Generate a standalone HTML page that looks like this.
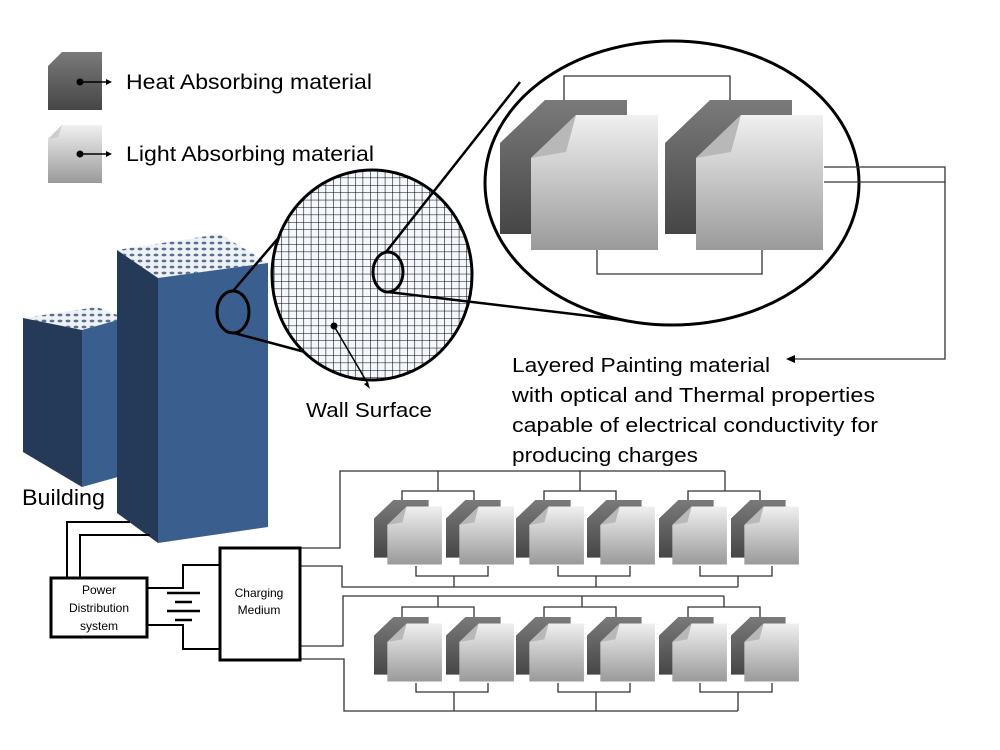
<!DOCTYPE html>
<html><head><meta charset="utf-8"><style>
html,body{margin:0;padding:0;background:#fff;}
svg{display:block;font-family:"Liberation Sans",sans-serif;}
</style></head><body>
<svg width="1000" height="750" viewBox="0 0 1000 750" xmlns="http://www.w3.org/2000/svg">
<defs>
<linearGradient id="gd" x1="0" y1="0" x2="0" y2="1"><stop offset="0" stop-color="#7a7a7a"/><stop offset="1" stop-color="#464646"/></linearGradient>
<linearGradient id="gl" x1="0" y1="0" x2="0" y2="1"><stop offset="0" stop-color="#f0f0f0"/><stop offset="1" stop-color="#9a9a9a"/></linearGradient>
<pattern id="grid" width="7.4" height="7.4" patternUnits="userSpaceOnUse"><rect width="7.4" height="7.4" fill="#f4f8fc"/><path d="M0 0H7.4M0 0V7.4" stroke="#000" stroke-width="1.1" fill="none"/></pattern>
<pattern id="roof" width="8" height="6" patternUnits="userSpaceOnUse"><rect width="8" height="6" fill="#eef1f6"/><ellipse cx="4" cy="3" rx="2.4" ry="1.4" fill="#5a6f90"/></pattern>
<g id="panel">
<path d="M45 0H127V134H0V43Z" fill="url(#gd)"/>
<path d="M76 15H158V150H31V58Z" fill="url(#gl)"/>
<path d="M31 58L76 15L66 52Z" fill="#b8b8b8"/>
</g>
</defs>

<path d="M62 52H102V110H48V66Z" fill="url(#gd)"/>
<path d="M62 125H102V183H48V139Z" fill="url(#gl)"/>
<path d="M48 139L62 125L58 137Z" fill="#ccc"/>
<circle cx="80" cy="82" r="3.5" fill="#000"/><line x1="80" y1="82" x2="110" y2="82" stroke="#000" stroke-width="1.5"/><path d="M112 82l-6-3v6z" fill="#000"/>
<circle cx="80" cy="154" r="3.5" fill="#000"/><line x1="80" y1="154" x2="110" y2="154" stroke="#000" stroke-width="1.5"/><path d="M112 154l-6-3v6z" fill="#000"/>
<text x="126" y="89" font-size="21" textLength="246" lengthAdjust="spacingAndGlyphs">Heat Absorbing material</text>
<text x="126" y="161" font-size="21" textLength="248" lengthAdjust="spacingAndGlyphs">Light Absorbing material</text>

<polygon points="23,318 97,307 125,318 82,330" fill="url(#roof)"/>
<polygon points="23,318 82,330 82,487 23,452" fill="#243a58"/>
<polygon points="82,330 125,318 125,475 82,487" fill="#3a5f8e"/>
<polygon points="117,250 220,234 268,263 158,278" fill="url(#roof)"/>
<polygon points="117,250 158,278 158,543 117,513" fill="#243a58"/>
<polygon points="158,278 268,263 268,527 158,543" fill="#3a5f8e"/>
<text x="22" y="505" font-size="22" textLength="83" lengthAdjust="spacingAndGlyphs">Building</text>

<ellipse cx="233" cy="312" rx="16" ry="21" fill="none" stroke="#000" stroke-width="3"/>
<line x1="233" y1="291" x2="292" y2="222" stroke="#000" stroke-width="2.5"/>
<line x1="234" y1="333" x2="305" y2="352" stroke="#000" stroke-width="2.5"/>

<ellipse cx="372" cy="275" rx="100" ry="105" fill="url(#grid)" stroke="#000" stroke-width="3"/>
<ellipse cx="388" cy="272" rx="15" ry="20" fill="none" stroke="#000" stroke-width="3"/>
<line x1="386" y1="252" x2="520" y2="82" stroke="#000" stroke-width="2.5"/>
<line x1="388" y1="292" x2="665" y2="325" stroke="#000" stroke-width="2.5"/>
<circle cx="334" cy="326" r="3.5" fill="#000"/>
<line x1="334" y1="326" x2="368" y2="384" stroke="#000" stroke-width="1.5"/>
<path d="M370 389l-6-5 4-2z" fill="#000"/>
<text x="306" y="417" font-size="20" textLength="126" lengthAdjust="spacingAndGlyphs">Wall Surface</text>

<ellipse cx="672" cy="183" rx="187" ry="142" fill="#fff" stroke="#000" stroke-width="3"/>
<path d="M564 100V76H730V100M597 250V274H762V250" fill="none" stroke="#333" stroke-width="1.3"/>
<use href="#panel" x="500" y="100"/>
<use href="#panel" x="665" y="100"/>
<path d="M824 167H945V359H790M824 182H945" fill="none" stroke="#333" stroke-width="1.3"/>
<path d="M786 359l9-4v8z" fill="#000"/>
<g font-size="20">
<text x="512" y="372" textLength="258" lengthAdjust="spacingAndGlyphs">Layered Painting material</text>
<text x="512" y="402" textLength="363" lengthAdjust="spacingAndGlyphs">with optical and Thermal properties</text>
<text x="512" y="432" textLength="366" lengthAdjust="spacingAndGlyphs">capable of electrical conductivity for</text>
<text x="512" y="462" textLength="186" lengthAdjust="spacingAndGlyphs">producing charges</text>
</g>

<g id="row">
<use href="#panel" transform="translate(374,500) scale(0.43)"/>
<use href="#panel" transform="translate(446,500) scale(0.43)"/>
<use href="#panel" transform="translate(516,500) scale(0.43)"/>
<use href="#panel" transform="translate(587,500) scale(0.43)"/>
<use href="#panel" transform="translate(659,500) scale(0.43)"/>
<use href="#panel" transform="translate(731,500) scale(0.43)"/>
</g>
<use href="#row" y="117"/>
<g fill="none" stroke="#333" stroke-width="1.3">
<path d="M300 548H340V471H725M438 471V491M580 471V491M725 471V491M402 500V491H474V500M544 500V491H616V500M688 500V491H760V500"/>
<path d="M416 566V576H488V566M558 566V576H630V566M700 566V576H772V566M454 576V587M596 576V587M738 576V587M300 566H342V587H738"/>
<path d="M300 646H343V596H724M438 596V607M582 596V607M724 596V607M402 617V607H474V617M544 617V607H616V617M688 617V607H760V617"/>
<path d="M416 683V692H488V683M558 683V692H630V683M700 683V692H772V683M454 692V711M596 692V711M738 692V711M300 659H344V711H738"/>
</g>

<g fill="none" stroke="#000" stroke-width="2">
<path d="M67 578V522H130M80 578V535H150"/>
<path d="M147 588H183V565H220M147 625H183V649H220"/>
</g>
<g stroke="#000" stroke-width="2.5">
<line x1="167" y1="593" x2="200" y2="593"/><line x1="175" y1="602" x2="192" y2="602"/>
<line x1="167" y1="611" x2="200" y2="611"/><line x1="175" y1="620" x2="192" y2="620"/>
</g>
<rect x="51" y="578" width="96" height="59" fill="#fff" stroke="#000" stroke-width="3"/>
<rect x="220" y="548" width="80" height="112" fill="#fff" stroke="#000" stroke-width="3"/>
<g font-size="12" text-anchor="middle">
<text x="99" y="594">Power</text>
<text x="99" y="612">Distribution</text>
<text x="99" y="630">system</text>
<text x="259" y="597">Charging</text>
<text x="259" y="614">Medium</text>
</g>
</svg>
</body></html>
